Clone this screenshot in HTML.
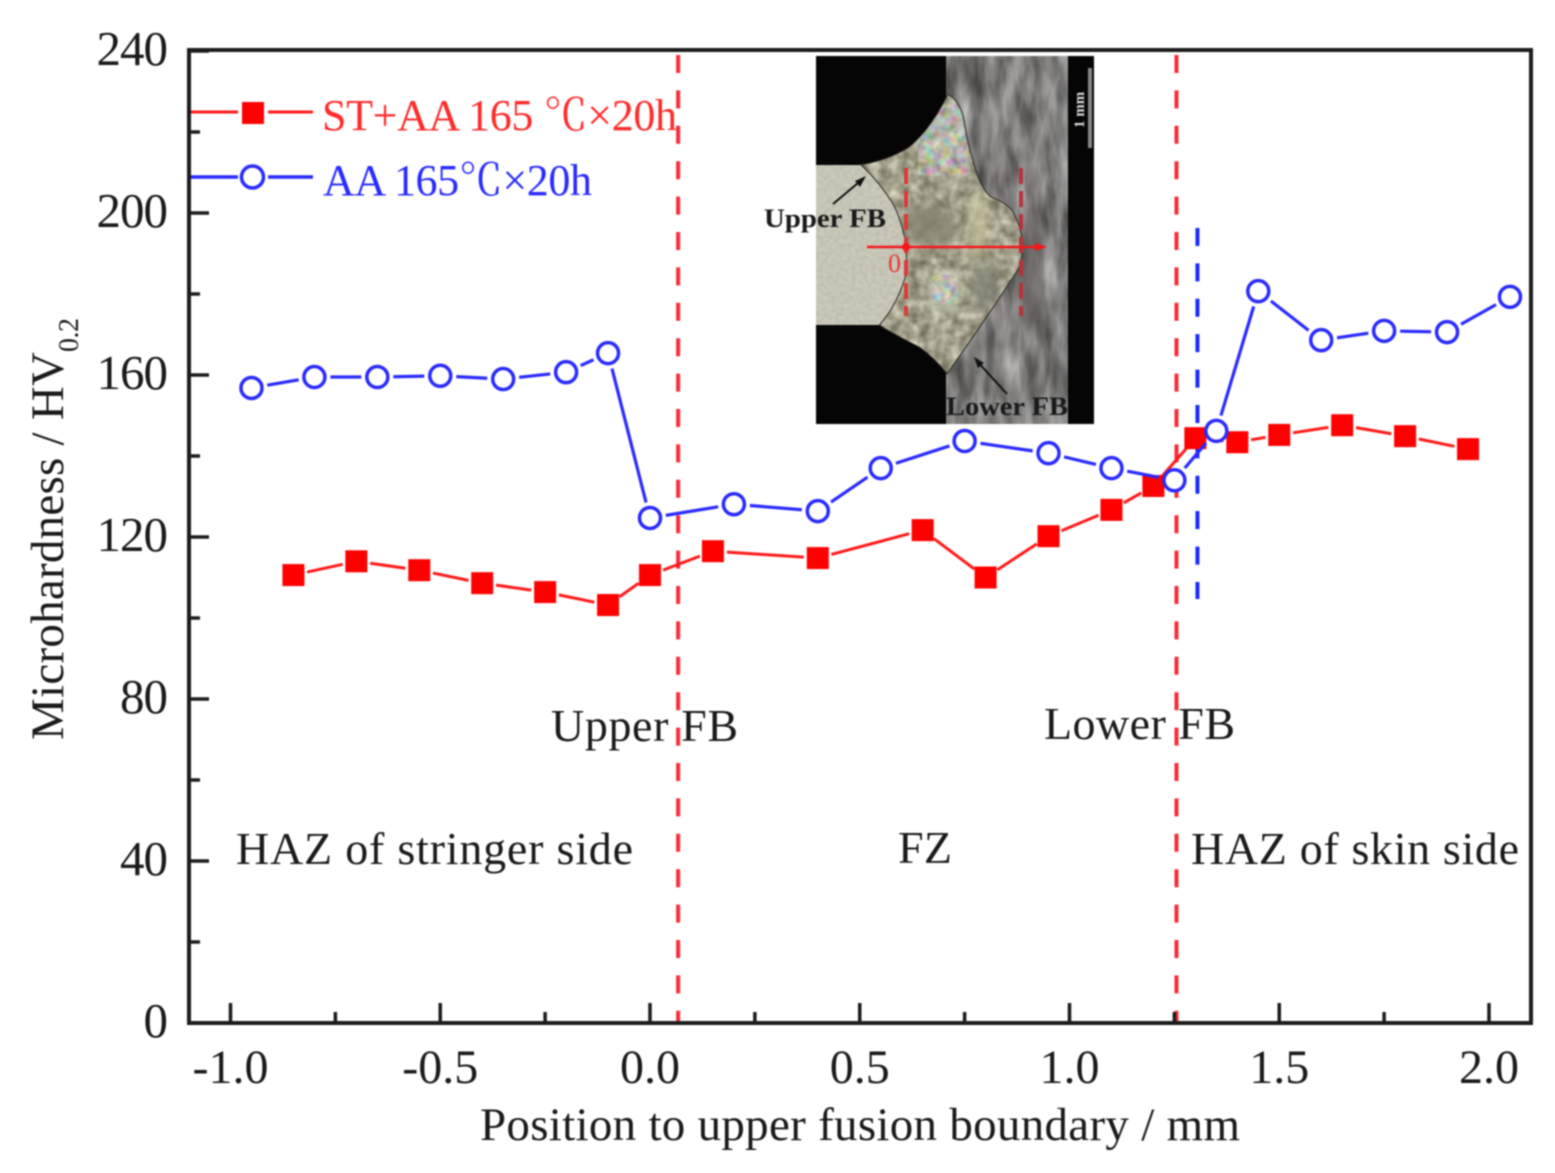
<!DOCTYPE html>
<html lang="en">
<head>
<meta charset="utf-8">
<title>Microhardness profile</title>
<style>
html,body{margin:0;padding:0;background:#fff;width:1555px;height:1173px;overflow:hidden}
svg{display:block;filter:blur(.75px)}
text{font-family:"Liberation Serif","Noto Serif CJK SC",serif}
</style>
</head>
<body>
<svg id="chart" xmlns="http://www.w3.org/2000/svg" width="1555" height="1173" viewBox="0 0 1555 1173">
<defs>
<filter id="grain" x="0" y="0" width="100%" height="100%" color-interpolation-filters="sRGB">
<feTurbulence type="fractalNoise" baseFrequency="0.07 0.02" numOctaves="3" seed="7"/>
<feColorMatrix type="matrix" values=".6 0 0 0 .2  .6 0 0 0 .195  .6 0 0 0 .19  0 0 0 0 1"/>
</filter>
<filter id="fine" x="0" y="0" width="100%" height="100%" color-interpolation-filters="sRGB">
<feTurbulence type="fractalNoise" baseFrequency="0.1" numOctaves="2" seed="3"/>
<feColorMatrix type="matrix" values=".55 0 0 0 .36  .55 0 0 0 .35  .55 0 0 0 .27  0 0 0 0 1"/>
</filter>
<filter id="plate" x="0" y="0" width="100%" height="100%" color-interpolation-filters="sRGB">
<feTurbulence type="fractalNoise" baseFrequency="0.25" numOctaves="1" seed="11"/>
<feColorMatrix type="matrix" values="0 0 0 0 .6  0 0 0 0 .6  0 0 0 0 .55  .6 0 0 0 -.18"/>
</filter>
<filter id="rainbow" x="0" y="0" width="100%" height="100%" color-interpolation-filters="sRGB">
<feTurbulence type="fractalNoise" baseFrequency="0.12" numOctaves="2" seed="21"/>
<feColorMatrix type="matrix" values="1.6 0 0 0 -.05  0 1.6 0 0 -.05  0 0 1.6 0 -.05  0 0 0 0 .38"/>
</filter>
<filter id="soft"><feGaussianBlur stdDeviation="6"/></filter>
<clipPath id="weld-clip"><path d="M862,165 Q890,160 910,147 Q932,128 948,95 Q958,100 963,117 Q966,140 973,163 Q980,188 990,197 Q1008,204 1013,213 Q1022,230 1022,247 Q1022,262 1017,270 Q985,320 947,373 Q935,358 920,347 Q898,336 880,325 Q898,305 907,273 Q908,255 905,237 Q900,215 893,203 Q880,182 862,165Z"/></clipPath>
<clipPath id="inset-clip"><rect x="816" y="56" width="278" height="368"/></clipPath>
</defs>

<rect x="0" y="0" width="1555" height="1173" fill="#fff"/>

<g id="inset" clip-path="url(#inset-clip)">
<rect x="816" y="56" width="278" height="368" fill="#050505"/>
<rect x="946" y="56" width="122" height="368" filter="url(#grain)"/>
<ellipse cx="1030" cy="270" rx="12" ry="60" fill="#56544f" opacity=".6" filter="url(#soft)"/>
<rect x="816" y="165" width="100" height="160" fill="#cbcabb"/>
<rect x="816" y="165" width="100" height="160" filter="url(#plate)"/>
<path d="M816,56H946V95Q932,128 910,147Q890,160 862,163H816Z" fill="#050505"/>
<path d="M816,326H880Q898,336 920,347Q935,358 946,373V424H816Z" fill="#050505"/>
<path d="M862,165 Q890,160 910,147 Q932,128 948,95 Q958,100 963,117 Q966,140 973,163 Q980,188 990,197 Q1008,204 1013,213 Q1022,230 1022,247 Q1022,262 1017,270 Q985,320 947,373 Q935,358 920,347 Q898,336 880,325 Q898,305 907,273 Q908,255 905,237 Q900,215 893,203 Q880,182 862,165Z" fill="#a09e88" stroke="#26261f" stroke-width="2"/>
<g clip-path="url(#weld-clip)">
<rect x="860" y="95" width="165" height="280" filter="url(#fine)"/>
<g filter="url(#soft)">
<ellipse cx="945" cy="140" rx="18" ry="34" fill="#c4c8b0" opacity=".6"/>
<ellipse cx="930" cy="225" rx="26" ry="22" fill="#83816e" opacity=".8"/>
<ellipse cx="978" cy="225" rx="8" ry="34" fill="#c9c69c" opacity=".8"/>
<ellipse cx="945" cy="292" rx="13" ry="22" fill="#c8d0b8" opacity=".8"/>
<ellipse cx="985" cy="285" rx="14" ry="26" fill="#7d7c70" opacity=".7"/>
</g>
<rect x="918" y="105" width="50" height="70" filter="url(#rainbow)"/>
<rect x="932" y="275" width="26" height="28" filter="url(#rainbow)"/>
</g>
<path d="M833,204L864,178" stroke="#111" stroke-width="2" fill="none"/>
<path d="M866,176l-11,5 5,6z" fill="#111"/>
<path d="M1007,394L976,360" stroke="#111" stroke-width="2" fill="none"/>
<path d="M974,357l4,11 6,-5z" fill="#111"/>
<text x="946" y="415" font-size="26" font-weight="700" fill="#1a1a1a" textLength="122" lengthAdjust="spacingAndGlyphs">Lower FB</text>
<path d="M906,168V316" stroke="#d93a3a" stroke-width="4" stroke-dasharray="16,7" fill="none"/>
<path d="M1021,168V316" stroke="#b8323c" stroke-width="4" stroke-dasharray="16,7" fill="none"/>
<path d="M867,247H1040" stroke="#f4161a" stroke-width="2.5" fill="none"/>
<path d="M1047,247l-12,-4v8z" fill="#f4161a"/>
<circle cx="906" cy="247" r="4" fill="#f4161a"/>
<text x="888" y="272" font-size="26" fill="#e8383a">0</text>
<rect x="1088" y="68" width="4" height="80" fill="#888"/>
<text transform="translate(1084,128) rotate(-90)" font-size="15" font-weight="700" fill="#ddd">1 mm</text>
</g>
<text x="764" y="227" font-size="26" font-weight="700" fill="#1a1a1a" textLength="122" lengthAdjust="spacingAndGlyphs">Upper FB</text>

<g id="boundaries"></g>
<g id="axes"></g>
<g id="series"></g>

<g>
<path d="M191,112H238" stroke="#ff1a1a" stroke-width="3" fill="none"/>
<path d="M268,112H313" stroke="#ff1a1a" stroke-width="3" fill="none"/>
<rect x="242" y="102" width="22" height="22" fill="#ff0000"/>
<text x="322" y="130" font-size="44" fill="#ff2a2a" textLength="355" lengthAdjust="spacing">ST+AA 165 ℃×20h</text>
<path d="M191,177H238" stroke="#2a2aff" stroke-width="3.5" fill="none"/>
<path d="M268,177H313" stroke="#2a2aff" stroke-width="3.5" fill="none"/>
<circle cx="252.500" cy="177" r="11" fill="#fff" stroke="#2a2aff" stroke-width="3.5"/>
<text x="323" y="195" font-size="44" fill="#2a2aff" textLength="269" lengthAdjust="spacing">AA 165℃×20h</text>
</g>

<g font-size="46" fill="#1a1a1a">
<text x="551" y="741" textLength="187" lengthAdjust="spacing">Upper FB</text>
<text x="1044" y="739" textLength="191" lengthAdjust="spacing">Lower FB</text>
<text x="236" y="864" textLength="397" lengthAdjust="spacing">HAZ of stringer side</text>
<text x="898" y="863" textLength="54" lengthAdjust="spacing">FZ</text>
<text x="1191" y="864" textLength="328" lengthAdjust="spacing">HAZ of skin side</text>
</g>

<text x="480" y="1140" font-size="47" fill="#1a1a1a" textLength="760" lengthAdjust="spacing">Position to upper fusion boundary / mm</text>
<g transform="translate(63,740) rotate(-90)" fill="#1a1a1a">
<text x="0" y="0" font-size="47" textLength="388" lengthAdjust="spacing">Microhardness / HV</text>
<text x="388" y="15" font-size="28" textLength="34" lengthAdjust="spacing">0.2</text>
</g>
</svg>

<script>
var st_x = [-0.85,-0.7,-0.55,-0.4,-0.25,-0.1,0,0.15,0.4,0.65,0.8,0.95,1.1,1.2,1.3,1.4,1.5,1.65,1.8,1.95];
var st_y = [110.6,114,111.8,108.6,106.4,103.2,110.6,116.5,114.8,121.7,110,120.2,126.7,132.6,144.4,143.4,145.2,147.6,144.9,141.7];
var aa_x = [-0.95,-0.8,-0.65,-0.5,-0.35,-0.2,-0.1,0,0.2,0.4,0.55,0.75,0.95,1.1,1.25,1.35,1.45,1.6,1.75,1.9,2.05];
var aa_y = [156.8,159.5,159.5,159.8,159,160.7,165.4,124.7,128.1,126.4,137,143.7,140.7,137,134,146.2,180.7,168.6,170.9,170.6,179.3];
var xTickValues = [-1,-0.5,0,0.5,1,1.5,2];
var xTickLabels = ['-1.0','-0.5','0.0','0.5','1.0','1.5','2.0'];
var xMinorValues = [-0.75,-0.25,0.25,0.75,1.25,1.75];
var yTickValues = [0,40,80,120,160,200,240];
var yTickLabels = ['0','40','80','120','160','200','240'];
var yMinorValues = [20,60,100,140,180,220];
var fusionBoundaries = [0.067,1.255];
var blueMarkerX = [1.305];
var blueMarkerRange = [104.7,196.3];

var NS = 'http://www.w3.org/2000/svg';
function sx(v){ return 650 + v * 419.5; }
function sy(v){ return 1023 - v * 4.05; }
function make(tag, attrs, parent){
  var el = document.createElementNS(NS, tag);
  for (var k in attrs) el.setAttribute(k, attrs[k]);
  parent.appendChild(el);
  return el;
}

var axes = document.getElementById('axes');
var frame = make('rect', {x:189,y:50,width:1342,height:973,fill:'none',stroke:'#1c1c1c','stroke-width':4}, axes);



xTickValues.forEach(function(v, i){
  var t = make('line', {x1:sx(v),x2:sx(v),y1:1023,y2:1003,stroke:'#1c1c1c','stroke-width':3.5}, axes);
  
  
  var l = make('text', {x:sx(v),y:1083,'font-size':48,fill:'#1a1a1a','text-anchor':'middle'}, axes);
  l.textContent = xTickLabels[i];
  
  
});
xMinorValues.forEach(function(v){
  var t = make('line', {x1:sx(v),x2:sx(v),y1:1023,y2:1012,stroke:'#1c1c1c','stroke-width':3.5}, axes);
  
  
});
yTickValues.forEach(function(v, i){
  var t = make('line', {x1:189,x2:209,y1:sy(v),y2:sy(v),stroke:'#1c1c1c','stroke-width':3.5}, axes);
  
  
  var l = make('text', {x:167,y:sy(v) + 14,'font-size':49,fill:'#1a1a1a','text-anchor':'end','letter-spacing':'-1px'}, axes);
  l.textContent = yTickLabels[i];
  
  
});
yMinorValues.forEach(function(v){
  var t = make('line', {x1:189,x2:200,y1:sy(v),y2:sy(v),stroke:'#1c1c1c','stroke-width':3.5}, axes);
  
  
});

var boundaries = document.getElementById('boundaries');
fusionBoundaries.forEach(function(v){
  var b = make('line', {x1:sx(v),x2:sx(v),y1:55,y2:1023,stroke:'#fa2a3a','stroke-width':4,'stroke-dasharray':'18,17.4'}, boundaries);
  
  
});
blueMarkerX.forEach(function(v){
  var b = make('line', {x1:sx(v),x2:sx(v),y1:sy(blueMarkerRange[1]),y2:sy(blueMarkerRange[0]),stroke:'#1a2aff','stroke-width':4,'stroke-dasharray':'18,17.4'}, boundaries);
  
  
});

function drawLines(xs, ys, gap, color, width, parent, name){
  for (var i = 0; i < xs.length - 1; i++){
    var x1 = sx(xs[i]), y1 = sy(ys[i]), x2 = sx(xs[i+1]), y2 = sy(ys[i+1]);
    var d = Math.hypot(x2 - x1, y2 - y1);
    if (d <= gap * 2) continue;
    var ux = (x2 - x1) / d, uy = (y2 - y1) / d;
    var seg = make('line', {x1:x1 + ux*gap,y1:y1 + uy*gap,x2:x2 - ux*gap,y2:y2 - uy*gap,stroke:color,'stroke-width':width}, parent);
    
    
  }
}

var series = document.getElementById('series');
var stGroup = make('g', {}, series);


drawLines(st_x, st_y, 14, '#ff1a1a', 3, stGroup, 'st-aa-line-segment');
st_x.forEach(function(v, i){
  var m = make('rect', {x:sx(v) - 11,y:sy(st_y[i]) - 11,width:22,height:22,fill:'#ff0000'}, stGroup);
  
  
});

var aaGroup = make('g', {}, series);


drawLines(aa_x, aa_y, 16, '#2a2aff', 3.2, aaGroup, 'aa-line-segment');
aa_x.forEach(function(v, i){
  var m = make('circle', {cx:sx(v),cy:sy(aa_y[i]),r:10.5,fill:'#fff',stroke:'#2a2aff','stroke-width':3.5}, aaGroup);
  
  
});
</script>
</body>
</html>
